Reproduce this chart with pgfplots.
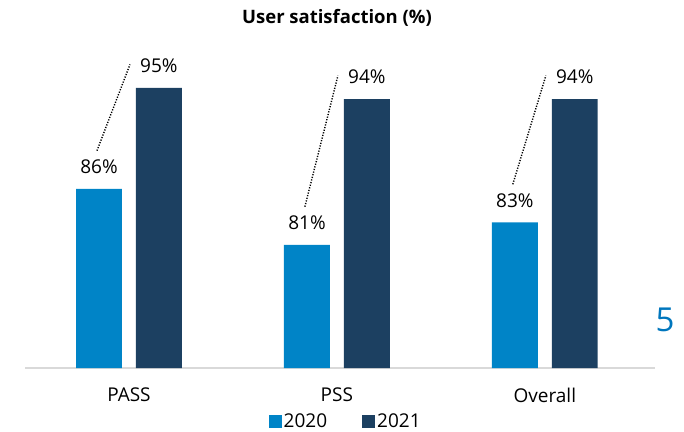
\documentclass[border=0pt]{standalone}
\usepackage{fontspec}
\setmainfont{Open Sans}
\usepackage{pgfplots}
\pgfplotsset{compat=1.18}
\definecolor{lightblue}{RGB}{0,132,199}
\definecolor{navy}{RGB}{28,64,97}
\definecolor{axisgray}{RGB}{217,217,217}
\definecolor{pagenum}{RGB}{0,118,189}

\begin{document}
\begin{tikzpicture}[x=1bp,y=1bp]
\path[use as bounding box] (0,0) rectangle (684,431);
\begin{axis}[
    at={(25bp,63bp)}, anchor=south west,
    scale only axis, width=630bp, height=336bp,
    ybar,
    xmin=-0.5, xmax=2.53, ymin=70, ymax=100,
    axis x line*=bottom, axis y line=none,
    x axis line style={axisgray, line width=2bp},
    xtick={0,1,2}, xticklabels={PASS,PSS,Overall},
    major tick length=0pt,
    xticklabel style={font=\fontsize{19bp}{22bp}\selectfont, inner sep=0pt, yshift=-20bp},
    bar width=0.221,
    /pgf/number format/assume math mode=true,
    every node near coord/.append style={font=\fontsize{19bp}{22bp}\selectfont, black, inner sep=0pt, anchor=south, yshift=15bp},
    legend style={at={(axis description cs:0.509,-0.160)}, anchor=center, draw=none,
        legend columns=2, font=\fontsize{19bp}{22bp}\selectfont,
        /tikz/every even column/.append style={column sep=33bp}},
    legend image code/.code={\fill[#1] (0bp,-6.5bp) rectangle (13bp,6.5bp);},
  ]
  \addplot[fill=lightblue, draw=none, bar shift=-0.144,
    nodes near coords={\pgfmathprintnumber{\pgfplotspointmeta}\%}] coordinates {(0,86) (1,81) (2,83)};
  \addplot[fill=navy, draw=none, bar shift=0.144,
    nodes near coords={\pgfmathprintnumber{\pgfplotspointmeta}\%}] coordinates {(0,95) (1,94) (2,94)};
  \addplot[sharp plot, black, line width=1.4bp, dash pattern=on 1.2bp off 1.5bp, forget plot] coordinates {(-0.154,89.4) (0.005,97.1)};
  \addplot[sharp plot, black, line width=1.4bp, dash pattern=on 1.2bp off 1.5bp, forget plot] coordinates {(0.846,84.4) (1.005,96.1)};
  \addplot[sharp plot, black, line width=1.4bp, dash pattern=on 1.2bp off 1.5bp, forget plot] coordinates {(1.846,86.4) (2.005,96.1)};
  \legend{2020, 2021}
\end{axis}
\node[font=\fontsize{18.5bp}{22bp}\selectfont\bfseries] at (337,413) {User satisfaction (\%)};
\node[font=\fontsize{33bp}{36bp}\selectfont, text=pagenum] at (665,111) {5};
\end{tikzpicture}
\end{document}
